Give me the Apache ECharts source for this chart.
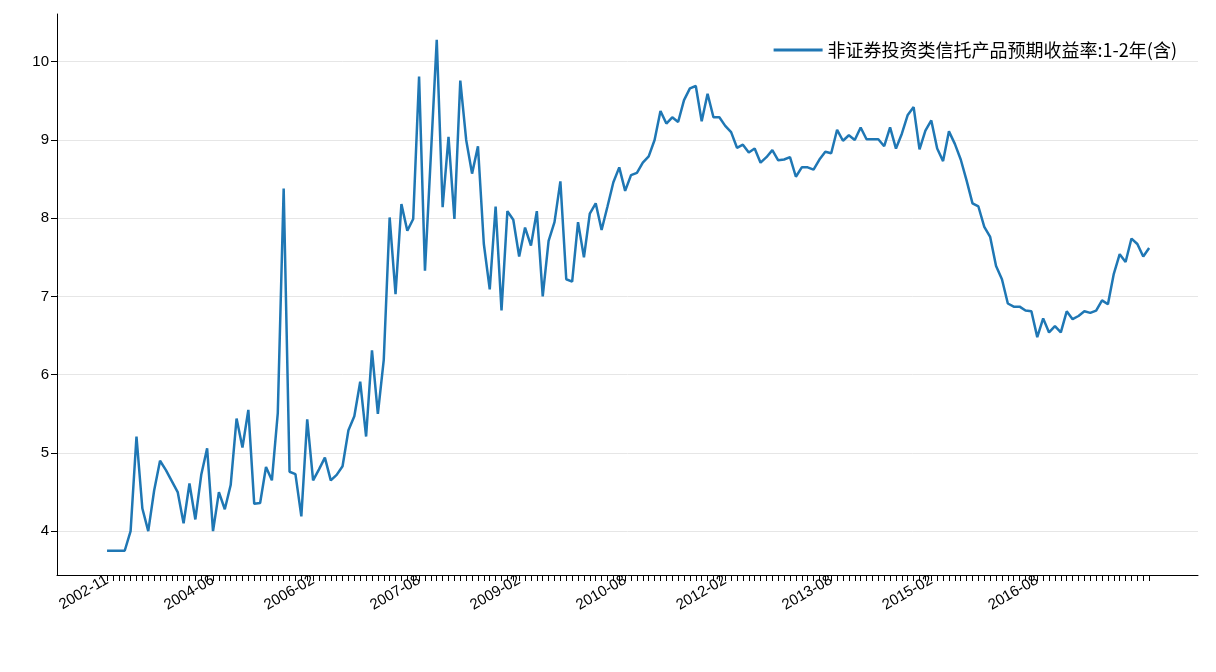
<!DOCTYPE html>
<html><head><meta charset="utf-8">
<script src="https://cdn.jsdelivr.net/npm/echarts@6/dist/echarts.min.js"></script>
<style>html,body{margin:0;padding:0;background:#fff}#c{width:1216px;height:672px}</style>
</head><body><div id="c"></div>
<script>
const seriesName = '非证券投资类信托产品预期收益率:1-2年(含)';
const values = [
3.75,3.75,3.75,3.75,4.0,5.21,4.29,4.0,4.52,4.90,4.78,4.64,4.50,4.10,4.61,4.15,4.72,5.06,4.0,4.5,4.28,4.59,5.44,5.07,5.55,4.35,4.36,4.82,4.65,5.51,8.38,
4.76,4.73,4.19,5.43,4.65,4.79,4.94,4.65,4.72,4.83,5.29,5.47,5.91,5.21,6.31,5.50,6.19,8.01,7.03,8.18,7.84,7.99,
9.81,7.33,8.8,10.28,8.14,9.04,7.99,9.76,9.0,8.57,8.92,7.67,7.09,8.15,6.82,8.09,7.98,7.51,7.88,7.65,8.09,7.0,7.71,7.95,8.47,7.22,7.19,7.95,7.5,8.06,8.19,7.85,8.15,8.46,8.65,8.35,8.55,8.58,8.71,8.79,9.0,9.37,9.21,9.29,9.23,9.51,9.66,9.69,
9.24,9.59,9.29,9.29,9.18,9.10,8.90,8.94,8.84,8.89,8.71,8.78,8.87,8.74,8.75,8.78,8.53,8.65,8.65,8.62,8.75,8.85,8.83,9.13,8.99,9.06,9.0,9.16,9.01,9.01,9.01,8.92,9.16,8.89,9.08,9.32,9.42,8.88,9.12,9.25,8.89,8.73,9.11,8.95,8.75,
8.48,8.19,8.15,7.89,
7.76,7.39,7.22,6.91,6.87,6.87,6.82,6.81,6.48,6.72,6.54,6.62,6.54,6.81,6.71,6.75,6.81,6.79,6.82,6.95,6.90,7.29,7.54,7.44,7.74,7.67,7.51,7.62
];
const tickLabels = ['2002-11','2004-06','2006-02','2007-08','2009-02','2010-08','2012-02','2013-08','2015-02','2016-08'];
const yTicks = [4,5,6,7,8,9,10];

const n = values.length;
const labelStep = 17.56;
const labelIdx = tickLabels.map((_, k) => Math.round(k * labelStep));
const idxToLabel = {};
labelIdx.forEach((v, k) => idxToLabel[v] = tickLabels[k]);
const pts = values.map((v, i) => [i, v]);
const allIdx = values.map((_, i) => i);

const chart = echarts.init(document.getElementById('c'));
chart.setOption({
  animation: false,
  textStyle: {fontFamily: 'Liberation Sans, Arial, sans-serif'},
  grid: {left: 57, right: 18, top: 14, bottom: 97, containLabel: false},
  legend: {
    right: 34, top: 36, itemWidth: 49, itemHeight: 3, itemGap: 18,
    icon: 'rect',
    textStyle: {fontSize: 18, color: '#000', fontFamily: 'Noto Sans CJK SC, sans-serif'},
    data: [seriesName]
  },
  xAxis: {
    type: 'value', min: -8.5, max: n - 1 + 8.3,
    axisLine: {show: true, onZero: false, lineStyle: {color: '#000', width: 1}},
    axisTick: {show: true, customValues: allIdx, length: 6, lineStyle: {color: '#000'}},
    splitLine: {show: false},
    axisLabel: {customValues: labelIdx, rotate: 30, fontSize: 15, color: '#000', margin: 4,
      formatter: v => idxToLabel[Math.round(v)] || ''}
  },
  yAxis: {
    type: 'value', min: 3.44, max: 10.61,
    axisLine: {show: true, onZero: false, lineStyle: {color: '#000', width: 1}},
    axisTick: {show: true, customValues: yTicks, length: 6, lineStyle: {color: '#000'}},
    axisLabel: {customValues: yTicks, fontSize: 15, color: '#000', margin: 8},
    splitLine: {show: true, lineStyle: {color: '#e6e6e6', width: 1}}
  },
  series: [{
    name: seriesName, type: 'line', data: pts, showSymbol: false,
    lineStyle: {color: '#1f77b4', width: 2.5}, itemStyle: {color: '#1f77b4'}
  }]
});
</script></body></html>
